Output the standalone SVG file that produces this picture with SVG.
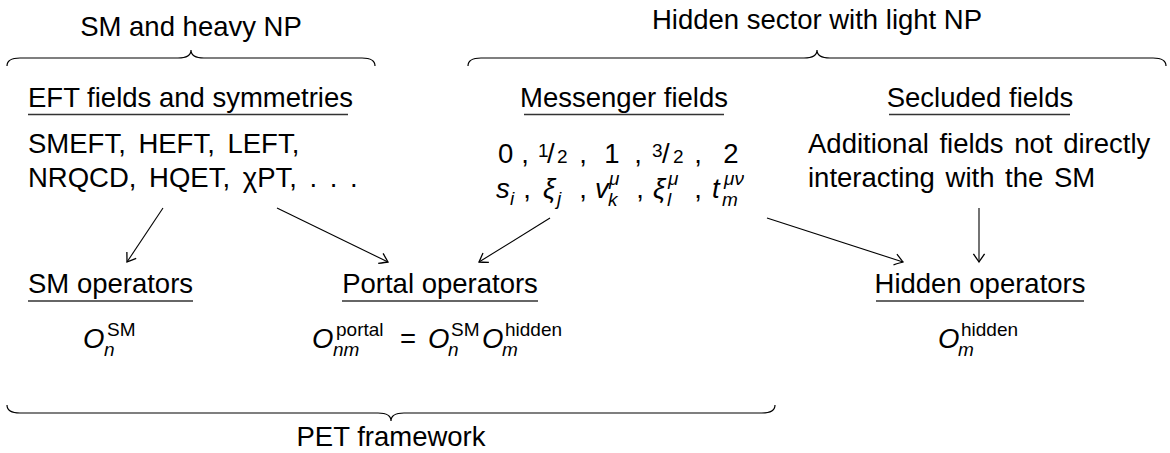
<svg xmlns="http://www.w3.org/2000/svg" width="1170" height="453" viewBox="0 0 1170 453">
<style>
text{font-family:"Liberation Sans",Arial,sans-serif;font-size:27.5px;fill:#000}
.s{font-size:19px}
.i{font-style:italic}
.m{text-anchor:middle}
.ul{stroke:#333;stroke-width:1.3}
.brace{fill:none;stroke:#000;stroke-width:1.2}
.arr{fill:none;stroke:#000;stroke-width:1.1;marker-end:url(#to)}
</style>
<defs>
<marker id="to" markerUnits="userSpaceOnUse" markerWidth="14" markerHeight="14" viewBox="-8 -6 10 12" refX="0" refY="0" orient="auto">
<path d="M-7,-4.8 Q-1.8,-1.2 0,0 Q-1.8,1.2 -7,4.8" fill="none" stroke="#000" stroke-width="1.1"/>
</marker>
</defs>

<g id="braces">
<path class="brace" d="M7,66 Q7,58 20,58 H178 Q191,58 191,50 Q191,58 204,58 H362 Q375,58 375,66"/>
<path class="brace" d="M468,66 Q468,58 481,58 H804 Q817,58 817,50 Q817,58 830,58 H1153 Q1166,58 1166,66"/>
<path class="brace" d="M7,405 Q7,413 20,413 H378 Q391,413 391,421 Q391,413 404,413 H762 Q775,413 775,405"/>
</g>

<g id="label-sm-heavy-np"><text class="m" x="191" y="36">SM and heavy NP</text></g>
<g id="label-hidden-sector"><text class="m" x="817" y="29">Hidden sector with light NP</text></g>
<g id="label-pet"><text class="m" x="391" y="446">PET framework</text></g>

<g id="eft-fields">
<text x="28" y="107">EFT fields and symmetries</text>
<line class="ul" x1="28" y1="114.5" x2="348" y2="114.5"/>
<text x="28" y="153" word-spacing="5">SMEFT, HEFT, LEFT,</text>
<text x="28" y="187" word-spacing="5">NRQCD, HQET, χPT, . . .</text>
</g>

<g id="messenger-fields">
<text class="m" x="624" y="107">Messenger fields</text>
<line class="ul" x1="524" y1="114.5" x2="724" y2="114.5"/>
<text x="498" y="163">0</text>
<text class="m" x="525" y="163">,</text>
<text class="s" x="538" y="157">1</text>
<text x="547" y="163">/</text>
<text class="s" x="557" y="163">2</text>
<text class="m" x="583" y="163">,</text>
<text class="m" x="612" y="163">1</text>
<text class="m" x="638" y="163">,</text>
<text class="s" x="652" y="157">3</text>
<text x="662" y="163">/</text>
<text class="s" x="673" y="163">2</text>
<text class="m" x="698" y="163">,</text>
<text class="m" x="731" y="163">2</text>
<text class="i" x="496" y="198">s</text>
<text class="s i" x="510" y="205">i</text>
<text class="m" x="527" y="198">,</text>
<text class="i" x="543" y="198">ξ</text>
<text class="s i" x="557" y="205">j</text>
<text class="m" x="583" y="198">,</text>
<text class="i" x="595" y="198">v</text>
<text class="s i" x="609" y="185">μ</text>
<text class="s i" x="608" y="206">k</text>
<text class="m" x="640" y="198">,</text>
<text class="i" x="653" y="198">ξ</text>
<text class="s i" x="668" y="185">μ</text>
<text class="s i" x="667" y="206">l</text>
<text class="m" x="698" y="198">,</text>
<text class="i" x="712" y="198">t</text>
<text class="s i" x="724" y="185">μν</text>
<text class="s i" x="722" y="206">m</text>
</g>

<g id="secluded-fields">
<text class="m" x="980" y="107">Secluded fields</text>
<line class="ul" x1="889" y1="114.5" x2="1070" y2="114.5"/>
<text x="808" y="153" word-spacing="3">Additional fields not directly</text>
<text x="808" y="187" word-spacing="3">interacting with the SM</text>
</g>

<g id="sm-operators">
<text x="28" y="293">SM operators</text>
<line class="ul" x1="28" y1="301" x2="193" y2="301"/>
<text class="i" x="83" y="348">O</text>
<text class="s" x="107" y="336">SM</text>
<text class="s i" x="104" y="356">n</text>
</g>

<g id="portal-operators">
<text class="m" x="440" y="293">Portal operators</text>
<line class="ul" x1="342" y1="301" x2="538" y2="301"/>
<text class="i" x="312" y="348">O</text>
<text class="s" x="336" y="336">portal</text>
<text class="s i" x="333" y="356">nm</text>
<text x="400" y="348">=</text>
<text class="i" x="428" y="348">O</text>
<text class="s" x="451" y="336">SM</text>
<text class="s i" x="448" y="356">n</text>
<text class="i" x="482" y="348">O</text>
<text class="s" x="505" y="336">hidden</text>
<text class="s i" x="502" y="356">m</text>
</g>

<g id="hidden-operators">
<text class="m" x="980" y="293">Hidden operators</text>
<line class="ul" x1="876" y1="301" x2="1084" y2="301"/>
<text class="i" x="938" y="348">O</text>
<text class="s" x="961" y="336">hidden</text>
<text class="s i" x="958" y="356">m</text>
</g>

<g id="connectors">
<line class="arr" x1="163" y1="208" x2="127" y2="262"/>
<line class="arr" x1="277" y1="208" x2="388" y2="262"/>
<line class="arr" x1="550" y1="218" x2="479" y2="262"/>
<line class="arr" x1="767" y1="218" x2="903" y2="262"/>
<line class="arr" x1="979" y1="208" x2="979" y2="262"/>
</g>
</svg>
